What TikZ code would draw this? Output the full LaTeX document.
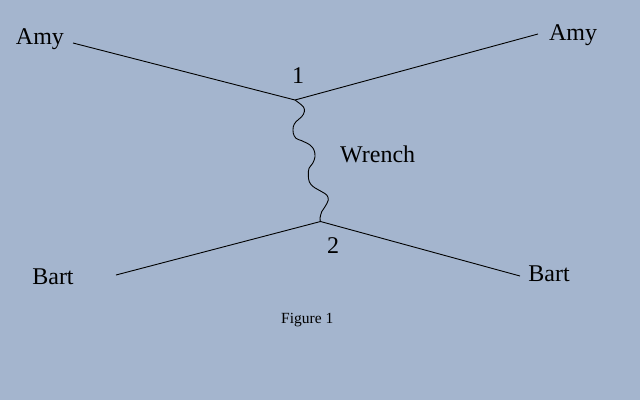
\documentclass[tikz,border=0pt]{standalone}
\usepackage{fontspec}
\setmainfont{Liberation Serif}
\definecolor{bgblue}{RGB}{164,181,206}
\tikzset{
  lbl/.style={anchor=base, inner sep=0pt, font=\fontsize{24}{24}\selectfont},
  figcap/.style={anchor=base, inner sep=0pt, font=\fontsize{15.5}{15.5}\selectfont},
  ln/.style={line width=0.9pt, black},
}
\begin{document}
\begin{tikzpicture}[x=1pt,y=-1pt]
\fill[bgblue] (0,0) rectangle (640,400);
\useasboundingbox (0,0) rectangle (640,400);
% vertices and ends
\coordinate (v1) at (295,100);
\coordinate (v2) at (320.5,221.5);
\coordinate (a1) at (73,43);
\coordinate (a2) at (538,34);
\coordinate (b1) at (116,275);
\coordinate (b2) at (520,276);
\draw[ln] (a1) -- (v1) -- (a2);
\draw[ln] (b1) -- (v2) -- (b2);
\draw[ln] plot[smooth, tension=0.6] coordinates {(295,100) (303.3,106.7) (304.3,111.7) (301.7,116.7) (296,121.7) (293.3,126.7) (293.3,133.3) (296,138.3) (301.7,140.7) (310,145) (314,150) (315,156.7) (312.7,163.3) (309,168.3) (308.3,175) (309.3,181.7) (313.3,186.7) (321.7,191.7) (326.7,195) (328.3,200) (325,206.7) (321.7,211.7) (320,218.3) (320.5,221.5)};
% labels
\node[lbl] (amyl) at (40,44) {Amy};
\node[lbl] (amyr) at (573,40) {Amy};
\node[lbl] (bartl) at (53,284) {Bart};
\node[lbl] (bartr) at (549,281) {Bart};
\node[lbl] (one) at (298,83) {1};
\node[lbl] (two) at (333,253) {2};
\node[lbl, anchor=base west] (wr) at (340,162) {Wrench};
\node[figcap, anchor=base west] (fig) at (281,323) {Figure 1};
\end{tikzpicture}
\end{document}
